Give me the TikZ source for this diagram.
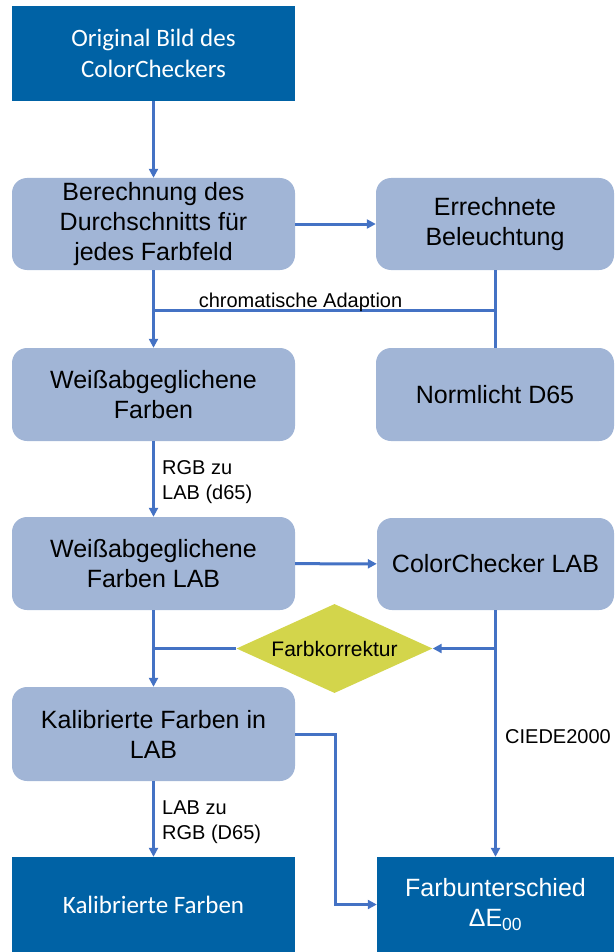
\documentclass[tikz,border=0pt]{standalone}
\usepackage{fontspec}
\setmainfont{Liberation Sans}
\newfontfamily\calibfont{Carlito}
\usetikzlibrary{shapes.geometric,arrows.meta}
\definecolor{boxdark}{HTML}{0062A5}
\definecolor{boxlight}{HTML}{A1B5D6}
\definecolor{boxyellow}{HTML}{D3D54B}
\definecolor{linecol}{HTML}{4472C4}

\begin{document}
\begin{tikzpicture}[x=1pt, y=-1pt]
\tikzstyle{vertexd}=[rectangle, fill=boxdark, text=white, minimum width=283pt, minimum height=95pt, inner sep=2pt, align=center, font=\calibfont\fontsize{25}{31}\selectfont]
\tikzstyle{vertexl}=[rectangle, rounded corners=15pt, fill=boxlight, text=black, minimum width=283pt, minimum height=92pt, inner sep=2pt, align=center, font=\fontsize{25}{30}\selectfont]
\tikzstyle{vertexy}=[diamond, fill=boxyellow, minimum width=196pt, minimum height=89pt, inner sep=0pt, aspect=2.2, font=\fontsize{21}{24}\selectfont]
\tikzstyle{labelstyle}=[align=left, inner sep=0pt, font=\fontsize{20}{25}\selectfont]
\tikzstyle{drawstyle}=[line width=3pt, draw=linecol, -{Triangle[length=9pt,width=9pt]}]
\tikzstyle{linestyle}=[line width=3pt, draw=linecol]

\useasboundingbox (0,0) rectangle (614,952);

\node[vertexd] (G0x0) at (153.5,53.5) {Original Bild des\\ColorCheckers};
\node[vertexl] (G0x1) at (153.5,224) {Berechnung des\\Durchschnitts f\"ur\\jedes Farbfeld};
\draw[drawstyle] (G0x0) -- (G0x1);
\node[vertexl, minimum width=238pt] (G1x1) at (495,224) {Errechnete\\Beleuchtung};
\draw[drawstyle] (G0x1) -- (G1x1);
\node[vertexl, minimum height=93pt] (G0x2) at (153.5,394.5) {Wei\ss abgeglichene\\Farben};
\node[vertexl, minimum width=238pt, minimum height=93pt] (G1x2) at (495,394.5) {Normlicht D65};
\draw[drawstyle] (G0x1) -- (G0x2);
\draw[linestyle] (G1x1) -- (G1x2);
\coordinate (C0) at (153.5,310);
\coordinate (C1) at (495,310);
\draw[linestyle] (C0) -- (C1);
\node[labelstyle, anchor=base, font=\fontsize{20}{22}\selectfont] (T0) at (300.5,307) {chromatische Adaption};
\node[vertexl, minimum height=93pt] (G0x3) at (153.5,563.5) {Wei\ss abgeglichene\\Farben LAB};
\draw[drawstyle] (G0x2) -- (G0x3);
\node[labelstyle, anchor=north west] (T1) at (162,460) {RGB zu\\LAB (d65)};
\node[vertexl, minimum width=237pt] (G1x3) at (495.5,564) {ColorChecker LAB};
\draw[drawstyle] (G0x3) -- (G1x3);
\node[vertexy] (D0) at (334.5,648.5) {Farbkorrektur};
\node[vertexl, minimum height=94pt] (G0x4) at (153.5,734) {Kalibrierte Farben in\\LAB};
\draw[drawstyle] (G0x3) -- (G0x4);
\coordinate (C2) at (153.5,648.5);
\draw[linestyle] (D0) -- (C2);
\node[vertexd] (G0x5) at (153.5,904.5) {Kalibrierte Farben};
\node[vertexd, minimum width=237pt, font=\fontsize{25}{30}\selectfont] (G1x5) at (495.5,904.5) {Farbunterschied\\ΔE\textsubscript{00}};
\draw[drawstyle] (G1x3) -- (G1x5);
\coordinate (C3) at (495.5,648.5);
\draw[drawstyle] (C3) -- (D0);
\node[labelstyle, anchor=base west] (T2) at (505,743) {CIEDE2000};
\draw[drawstyle] (G0x4) -- (G0x5);
\node[labelstyle, anchor=north west] (T3) at (162,801) {LAB zu\\RGB (D65)};
\draw[drawstyle] (G0x4.east) -- ++(40,0) |- (G1x5);
\end{tikzpicture}
\end{document}
